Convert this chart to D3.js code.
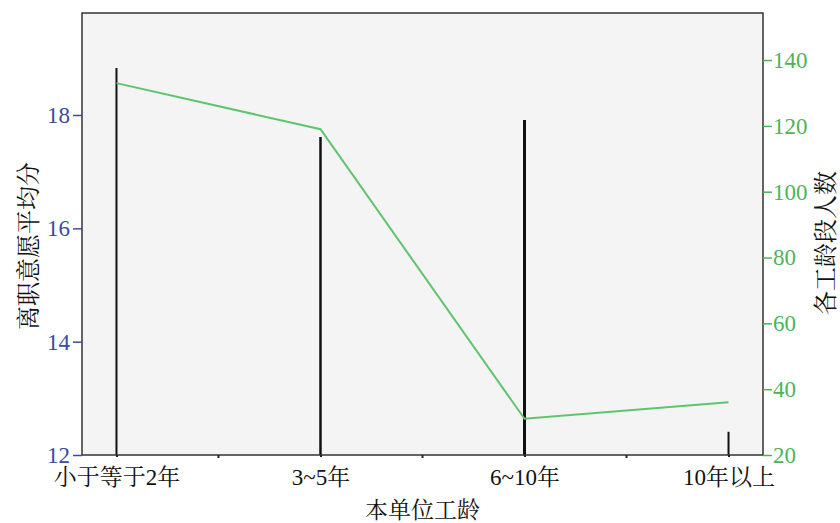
<!DOCTYPE html>
<html><head><meta charset="utf-8">
<script src="https://cdn.jsdelivr.net/npm/d3@7/dist/d3.min.js"></script>
<style>
body{margin:0;background:#fff;}
text{font-family:"Liberation Serif","Noto Serif CJK SC","Noto Sans CJK SC",serif;}
</style></head>
<body><svg id="c" width="840" height="523"></svg>
<script>
const categories = ["小于等于2年","3~5年","6~10年","10年以上"];
const meanScore = [18.83, 17.61, 17.91, 12.41];   // left axis, black bars
const headcount = [133, 119, 31, 36];             // right axis, green line
const leftTicks = [12,14,16,18];
const rightTicks = [20,40,60,80,100,120,140];
const barWidths = [2, 2.5, 3, 2];

const svg = d3.select("#c");
const L = 82, R = 763, T = 13, B = 455;
const x = d3.scalePoint().domain(categories).range([L, R]).padding(0.169);
const yL = d3.scaleLinear().domain([12, 19.8]).range([B, T]);
const yR = d3.scaleLinear().domain([20, 154.3]).range([B, T]);

svg.append("rect").attr("x",L).attr("y",T).attr("width",R-L).attr("height",B-T)
  .attr("fill","#f4f4f4");

// bars (thin)
svg.selectAll(".bar").data(categories).enter().append("line")
  .attr("x1",d=>x(d)).attr("x2",d=>x(d))
  .attr("y1",B).attr("y2",(d,i)=>yL(meanScore[i]))
  .attr("stroke","#111").attr("stroke-width",(d,i)=>barWidths[i]);

// line
const line = d3.line().x((d,i)=>x(categories[i])).y(d=>yR(d));
svg.append("path").datum(headcount).attr("d",line)
  .attr("fill","none").attr("stroke","#5ec46e").attr("stroke-width",2);

// frame
svg.append("rect").attr("x",L).attr("y",T).attr("width",R-L).attr("height",B-T)
  .attr("fill","none").attr("stroke","#333").attr("stroke-width",1.5);

// left axis
const gl = svg.append("g").attr("transform",`translate(${L},0)`)
  .call(d3.axisLeft(yL).tickValues(leftTicks).tickSize(9).tickPadding(3).tickFormat(d3.format("d")));
gl.select(".domain").remove();
gl.selectAll("line").attr("stroke","#3a4aa0").attr("stroke-width",1.5);
gl.selectAll("text").attr("fill","#3a4aa0").style("font-size","23px");

// right axis
const gr = svg.append("g").attr("transform",`translate(${R},0)`)
  .call(d3.axisRight(yR).tickValues(rightTicks).tickSize(9).tickPadding(1).tickFormat(d3.format("d")));
gr.select(".domain").remove();
gr.selectAll("line").attr("stroke","#4db35a").attr("stroke-width",1.5);
gr.selectAll("text").attr("fill","#4db35a").style("font-size","23px");

// bottom axis
const gb = svg.append("g").attr("transform",`translate(0,${B})`)
  .call(d3.axisBottom(x).tickSize(2));
gb.select(".domain").remove();
gb.selectAll("line").attr("stroke","#222").attr("stroke-width",2);
gb.selectAll("text").attr("fill","#111").style("font-size","23px")
  .attr("y",30).attr("dy",0);
// minor ticks between categories
const mids = categories.slice(1).map((c,i)=>(x(c)+x(categories[i]))/2);
svg.selectAll(".mt").data(mids).enter().append("line")
  .attr("x1",d=>d).attr("x2",d=>d).attr("y1",B).attr("y2",B+3)
  .attr("stroke","#222").attr("stroke-width",2);

// titles
svg.append("text").attr("x",(L+R)/2).attr("y",518).attr("text-anchor","middle")
  .attr("fill","#111").style("font-size","23px").text("本单位工龄");
svg.append("text").attr("transform",`translate(37,246) rotate(-90)`)
  .attr("text-anchor","middle").attr("fill","#111").style("font-size","24px").text("离职意愿平均分");
svg.append("text").attr("transform",`translate(834,243) rotate(-90)`)
  .attr("text-anchor","middle").attr("fill","#111").style("font-size","24px").text("各工龄段人数");
</script></body></html>
